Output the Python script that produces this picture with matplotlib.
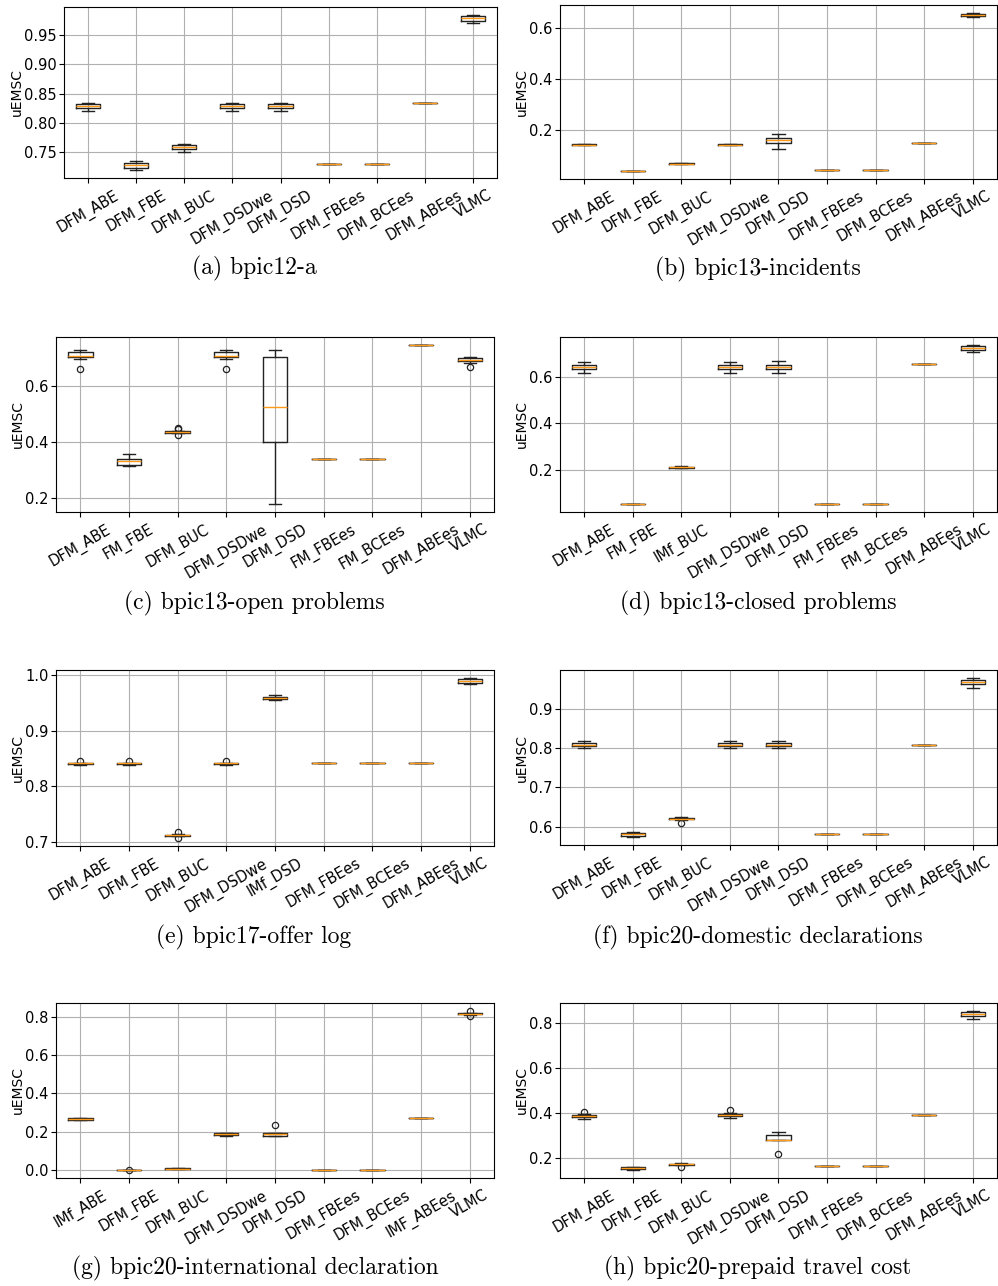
import matplotlib
matplotlib.use("Agg")
import matplotlib.pyplot as plt
from matplotlib.ticker import MultipleLocator

W, H = 998, 1286

# ---------------- data ----------------
LABELS_A = ["DFM_ABE", "DFM_FBE", "DFM_BUC", "DFM_DSDwe", "DFM_DSD", "DFM_FBEes", "DFM_BCEes", "DFM_ABEes", "VLMC"]
MED_A = [0.829, 0.7286, 0.759, 0.829, 0.829, 0.7308, 0.7308, 0.8334, 0.9776]
Q1_A = [0.8255, 0.724, 0.7562, 0.8255, 0.8255, 0.7308, 0.7308, 0.8334, 0.973]
Q3_A = [0.833, 0.732, 0.7624, 0.833, 0.833, 0.7308, 0.7308, 0.8334, 0.982]
LO_A = [0.820, 0.7196, 0.7511, 0.820, 0.820, 0.7308, 0.7308, 0.8334, 0.9692]
HI_A = [0.834, 0.7348, 0.7646, 0.834, 0.834, 0.7308, 0.7308, 0.8334, 0.9838]
FL_A = [[], [], [], [], [], [], [], [], []]

LABELS_B = ["DFM_ABE", "DFM_FBE", "DFM_BUC", "DFM_DSDwe", "DFM_DSD", "DFM_FBEes", "DFM_BCEes", "DFM_ABEes", "VLMC"]
MED_B = [0.1438, 0.0405, 0.069, 0.1438, 0.1608, 0.0444, 0.0444, 0.1503, 0.652]
Q1_B = [0.1425, 0.0398, 0.0683, 0.1425, 0.149, 0.0444, 0.0444, 0.1503, 0.648]
Q3_B = [0.145, 0.041, 0.0697, 0.145, 0.1712, 0.0444, 0.0444, 0.1503, 0.6575]
LO_B = [0.1418, 0.0395, 0.068, 0.1418, 0.1268, 0.0444, 0.0444, 0.1503, 0.643]
HI_B = [0.1455, 0.0414, 0.070, 0.1455, 0.187, 0.0444, 0.0444, 0.1503, 0.661]
FL_B = [[], [], [], [], [], [], [], [], []]

LABELS_C = ["DFM_ABE", "FM_FBE", "DFM_BUC", "DFM_DSDwe", "DFM_DSD", "FM_FBEes", "FM_BCEes", "DFM_ABEes", "VLMC"]
MED_C = [0.7096, 0.3316, 0.4356, 0.7096, 0.5254, 0.3388, 0.3388, 0.7478, 0.695]
Q1_C = [0.7048, 0.3196, 0.4333, 0.7048, 0.401, 0.3388, 0.3388, 0.7478, 0.6916]
Q3_C = [0.7215, 0.3411, 0.4392, 0.7215, 0.7036, 0.3388, 0.3388, 0.7478, 0.701]
LO_C = [0.6964, 0.3148, 0.4325, 0.6964, 0.1785, 0.3388, 0.3388, 0.7478, 0.6844]
HI_C = [0.730, 0.359, 0.4405, 0.730, 0.730, 0.3388, 0.3388, 0.7478, 0.706]
FL_C = [[0.663], [], [0.452, 0.446, 0.425], [0.663], [], [], [], [], [0.669]]

LABELS_D = ["DFM_ABE", "FM_FBE", "IMf_BUC", "DFM_DSDwe", "DFM_DSD", "FM_FBEes", "FM_BCEes", "DFM_ABEes", "VLMC"]
MED_D = [0.6433, 0.0527, 0.2116, 0.6433, 0.6433, 0.0527, 0.0527, 0.655, 0.7242]
Q1_D = [0.6332, 0.0527, 0.2085, 0.6332, 0.6347, 0.0527, 0.0527, 0.655, 0.717]
Q3_D = [0.652, 0.0527, 0.2144, 0.652, 0.6534, 0.0527, 0.0527, 0.655, 0.7357]
LO_D = [0.6173, 0.0527, 0.2072, 0.6173, 0.6173, 0.0527, 0.0527, 0.655, 0.7083]
HI_D = [0.6664, 0.0527, 0.2155, 0.6664, 0.669, 0.0527, 0.0527, 0.655, 0.7386]
FL_D = [[], [], [], [], [], [], [], [], []]

LABELS_E = ["DFM_ABE", "DFM_FBE", "DFM_BUC", "DFM_DSDwe", "IMf_DSD", "DFM_FBEes", "DFM_BCEes", "DFM_ABEes", "VLMC"]
MED_E = [0.841, 0.841, 0.7114, 0.841, 0.959, 0.8422, 0.8422, 0.8422, 0.9904]
Q1_E = [0.8398, 0.8398, 0.7105, 0.8398, 0.9572, 0.8422, 0.8422, 0.8422, 0.9867]
Q3_E = [0.8418, 0.8418, 0.7125, 0.8418, 0.9614, 0.8422, 0.8422, 0.8422, 0.9934]
LO_E = [0.8388, 0.8388, 0.7100, 0.8388, 0.956, 0.8422, 0.8422, 0.8422, 0.9843]
HI_E = [0.8425, 0.8425, 0.7130, 0.8425, 0.9645, 0.8422, 0.8422, 0.8422, 0.9952]
FL_E = [[0.8458], [0.8458], [0.7169, 0.7066], [0.8458], [], [], [], [], []]

LABELS_F = ["DFM_ABE", "DFM_FBE", "DFM_BUC", "DFM_DSDwe", "DFM_DSD", "DFM_FBEes", "DFM_BCEes", "DFM_ABEes", "VLMC"]
MED_F = [0.8085, 0.5814, 0.6203, 0.8085, 0.8085, 0.5805, 0.5805, 0.8085, 0.9678]
Q1_F = [0.8042, 0.5771, 0.6186, 0.8042, 0.8042, 0.5805, 0.5805, 0.8085, 0.9627]
Q3_F = [0.8127, 0.5847, 0.6229, 0.8127, 0.8127, 0.5805, 0.5805, 0.8085, 0.9737]
LO_F = [0.800, 0.5737, 0.6170, 0.800, 0.800, 0.5805, 0.5805, 0.8085, 0.9525]
HI_F = [0.817, 0.5864, 0.6254, 0.817, 0.817, 0.5805, 0.5805, 0.8085, 0.978]
FL_F = [[], [], [0.610], [], [], [], [], [], []]

LABELS_G = ["IMf_ABE", "DFM_FBE", "DFM_BUC", "DFM_DSDwe", "DFM_DSD", "DFM_FBEes", "DFM_BCEes", "IMF_ABEes", "VLMC"]
MED_G = [0.2674, 0.001, 0.007, 0.186, 0.186, 0.001, 0.001, 0.269, 0.816]
Q1_G = [0.2622, 0.0005, 0.0055, 0.1806, 0.1788, 0.001, 0.001, 0.269, 0.8125]
Q3_G = [0.2708, 0.002, 0.0085, 0.191, 0.191, 0.001, 0.001, 0.269, 0.8194]
LO_G = [0.2600, 0.0005, 0.005, 0.1795, 0.1775, 0.001, 0.001, 0.269, 0.8110]
HI_G = [0.2715, 0.0025, 0.009, 0.1915, 0.192, 0.001, 0.001, 0.269, 0.8210]
FL_G = [[], [0.0], [], [], [0.234], [], [], [], [0.830, 0.804]]

LABELS_H = ["DFM_ABE", "DFM_FBE", "DFM_BUC", "DFM_DSDwe", "DFM_DSD", "DFM_FBEes", "DFM_BCEes", "DFM_ABEes", "VLMC"]
MED_H = [0.3863, 0.1538, 0.1732, 0.3922, 0.279, 0.1627, 0.1627, 0.3908, 0.8408]
Q1_H = [0.3803, 0.1493, 0.1702, 0.3848, 0.2775, 0.1627, 0.1627, 0.3908, 0.8319]
Q3_H = [0.3923, 0.1583, 0.1747, 0.3967, 0.2999, 0.1627, 0.1627, 0.3908, 0.8483]
LO_H = [0.3744, 0.1463, 0.1695, 0.3788, 0.2775, 0.1627, 0.1627, 0.3908, 0.8155]
HI_H = [0.3967, 0.1598, 0.1761, 0.4012, 0.3133, 0.1627, 0.1627, 0.3908, 0.8527]
FL_H = [[0.4027], [], [0.1612], [0.4116], [0.2194], [], [], [], []]

CAPTIONS = ["(a) bpic12-a", "(b) bpic13-incidents", "(c) bpic13-open problems",
            "(d) bpic13-closed problems", "(e) bpic17-offer log",
            "(f) bpic20-domestic declarations", "(g) bpic20-international declaration",
            "(h) bpic20-prepaid travel cost"]

Y_STEPS = [0.05, 0.2, 0.2, 0.2, 0.1, 0.1, 0.2, 0.2]

PANELS = [
    (LABELS_A, MED_A, Q1_A, Q3_A, LO_A, HI_A, FL_A),
    (LABELS_B, MED_B, Q1_B, Q3_B, LO_B, HI_B, FL_B),
    (LABELS_C, MED_C, Q1_C, Q3_C, LO_C, HI_C, FL_C),
    (LABELS_D, MED_D, Q1_D, Q3_D, LO_D, HI_D, FL_D),
    (LABELS_E, MED_E, Q1_E, Q3_E, LO_E, HI_E, FL_E),
    (LABELS_F, MED_F, Q1_F, Q3_F, LO_F, HI_F, FL_F),
    (LABELS_G, MED_G, Q1_G, Q3_G, LO_G, HI_G, FL_G),
    (LABELS_H, MED_H, Q1_H, Q3_H, LO_H, HI_H, FL_H),
]

# ---------------- layout (pixels: left, top, right, bottom) ----------------
BOXES = [
    (64, 7, 497, 178), (560, 5, 997, 179),
    (56, 337, 494, 512), (560, 337, 997, 512),
    (56, 670, 494, 846), (560, 670, 997, 845),
    (56, 1003, 494, 1178), (560, 1003, 997, 1178),
]
CAP_POS = [(254, 268), (758, 269), (254, 603), (758, 603),
           (254, 937), (758, 937), (255, 1268), (758, 1268)]

fig = plt.figure(figsize=(W / 100, H / 100), dpi=100)

for (labels, med, q1, q3, lo, hi, fl), (l, t, r, b), cap, (cx, cy), ystep in zip(
        PANELS, BOXES, CAPTIONS, CAP_POS, Y_STEPS):
    ax = fig.add_axes([l / W, 1 - b / H, (r - l) / W, (b - t) / H])
    stats = []
    for i in range(len(labels)):
        stats.append(dict(med=med[i], q1=q1[i], q3=q3[i], whislo=lo[i], whishi=hi[i],
                          fliers=fl[i], label=labels[i]))
    ax.bxp(stats, positions=range(1, len(labels) + 1), widths=0.5,
           boxprops=dict(color="#222222", linewidth=1.0),
           whiskerprops=dict(color="#222222", linewidth=1.0),
           capprops=dict(color="#222222", linewidth=1.0),
           medianprops=dict(color="#ff9a1a", linewidth=1.0),
           flierprops=dict(marker="o", markerfacecolor="none", markeredgecolor="#222222",
                           markersize=4.5, markeredgewidth=0.9))
    ax.yaxis.set_major_locator(MultipleLocator(ystep))
    ax.grid(True, color="#b0b0b0", linewidth=0.8)
    ax.set_axisbelow(True)
    ax.set_xticks(range(1, len(labels) + 1))
    ax.set_xticklabels(labels, rotation=30, ha="center", fontsize=10.5)
    ax.tick_params(axis="y", labelsize=10.5, pad=2)
    ax.set_ylabel("uEMSC", fontsize=10, labelpad=0)
    fig.text(cx / W, 1 - cy / H, cap, ha="center", va="center", fontsize=17, family="cmr10")

fig.savefig("out.png", dpi=100)
